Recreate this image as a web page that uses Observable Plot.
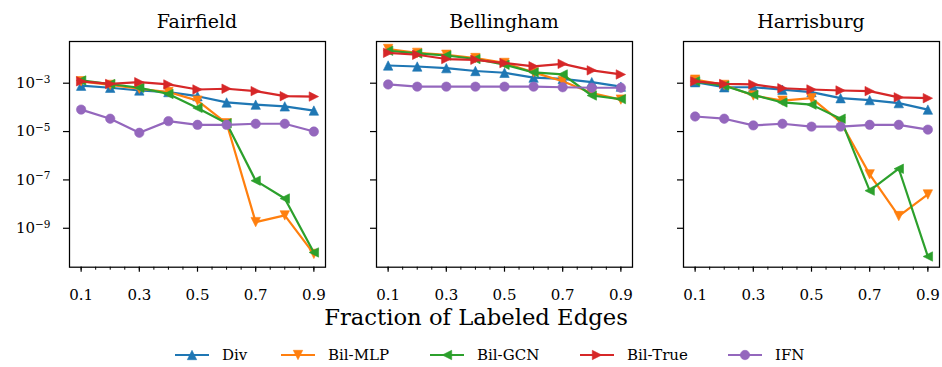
<!DOCTYPE html>
<html><head><meta charset="utf-8">
<script src="https://cdn.jsdelivr.net/npm/d3@7"></script>
<script src="https://cdn.jsdelivr.net/npm/@observablehq/plot@0.6"></script>
<style>
html,body{margin:0;padding:0;background:#fff;}
#fig{position:relative;width:942px;height:367px;font-family:"DejaVu Serif",serif;color:#000;overflow:hidden;background:#fff}
#fig svg{position:absolute;top:0}
.title{position:absolute;top:12px;font-size:19px;line-height:19px;text-align:center;width:256px;white-space:nowrap}
.xlabel{position:absolute;top:306px;left:0;width:952px;text-align:center;font-size:22.7px;line-height:22.7px;white-space:nowrap}
.leg{position:absolute;top:348px;font-size:15px;line-height:15px;white-space:nowrap}
.legsvg{position:absolute}
</style></head><body><div id="fig"></div>
<script>
// ---- data ----
const fractions = [0.1, 0.2, 0.3, 0.4, 0.5, 0.6, 0.7, 0.8, 0.9];
const cities = ["Fairfield", "Bellingham", "Harrisburg"];
const methods = ["Div", "Bil-MLP", "Bil-GCN", "Bil-True", "IFN"];
const xTickLabels = ["0.1", "0.3", "0.5", "0.7", "0.9"];
const yTickExponents = [-3, -5, -7, -9];
const xAxisLabel = "Fraction of Labeled Edges";

const fairfieldDiv     = [7.9e-4, 6.5e-4, 5.0e-4, 4.3e-4, 2.9e-4, 1.6e-4, 1.3e-4, 1.1e-4, 7.4e-5];
const fairfieldBilMLP  = [1.2e-3, 8.5e-4, 5.9e-4, 4.3e-4, 1.9e-4, 2.2e-5, 1.8e-9, 3.4e-9, 8.7e-11];
const fairfieldBilGCN  = [1.3e-3, 9.3e-4, 6.5e-4, 3.6e-4, 9.5e-5, 2.2e-5, 9.3e-8, 1.7e-8, 1.0e-10];
const fairfieldBilTrue = [1.2e-3, 9.3e-4, 1.1e-3, 8.9e-4, 5.5e-4, 5.9e-4, 4.7e-4, 2.9e-4, 2.8e-4];
const fairfieldIFN     = [8.1e-5, 3.4e-5, 8.9e-6, 2.7e-5, 1.9e-5, 1.9e-5, 2.1e-5, 2.1e-5, 1.0e-5];

const bellinghamDiv     = [5.4e-3, 4.9e-3, 4.2e-3, 3.2e-3, 2.7e-3, 1.7e-3, 1.5e-3, 1.1e-3, 7.2e-4];
const bellinghamBilMLP  = [2.6e-2, 1.8e-2, 1.5e-2, 1.1e-2, 6.9e-3, 2.8e-3, 1.2e-3, 3.9e-4, 2.1e-4];
const bellinghamBilGCN  = [2.2e-2, 1.7e-2, 1.4e-2, 1.0e-2, 5.8e-3, 2.8e-3, 2.3e-3, 3.1e-4, 2.2e-4];
const bellinghamBilTrue = [1.8e-2, 1.5e-2, 1.0e-2, 9.3e-3, 6.8e-3, 5.0e-3, 6.3e-3, 3.4e-3, 2.3e-3];
const bellinghamIFN     = [8.9e-4, 7.2e-4, 7.2e-4, 7.2e-4, 7.2e-4, 7.2e-4, 6.8e-4, 6.5e-4, 6.5e-4];

const harrisburgDiv     = [1.1e-3, 6.8e-4, 6.8e-4, 5.4e-4, 4.3e-4, 2.4e-4, 2.0e-4, 1.5e-4, 8.1e-5];
const harrisburgBilMLP  = [1.4e-3, 8.5e-4, 3.1e-4, 1.9e-4, 2.4e-4, 2.5e-5, 1.7e-7, 3.2e-9, 2.5e-8];
const harrisburgBilGCN  = [1.2e-3, 7.9e-4, 3.3e-4, 1.6e-4, 1.3e-4, 3.4e-5, 3.6e-8, 2.9e-7, 6.8e-11];
const harrisburgBilTrue = [1.2e-3, 9.3e-4, 8.9e-4, 6.2e-4, 5.5e-4, 5.0e-4, 4.7e-4, 2.6e-4, 2.4e-4];
const harrisburgIFN     = [4.2e-5, 3.4e-5, 1.8e-5, 2.1e-5, 1.6e-5, 1.6e-5, 1.9e-5, 1.9e-5, 1.2e-5];

const cityData = [
  [fairfieldDiv, fairfieldBilMLP, fairfieldBilGCN, fairfieldBilTrue, fairfieldIFN],
  [bellinghamDiv, bellinghamBilMLP, bellinghamBilGCN, bellinghamBilTrue, bellinghamIFN],
  [harrisburgDiv, harrisburgBilMLP, harrisburgBilGCN, harrisburgBilTrue, harrisburgIFN]
];

// ---- styling ----
const colors = ["#1f77b4", "#ff7f0e", "#2ca02c", "#d62728", "#9467bd"];
function tri(dir) {
  return {
    draw(ctx, size) {
      const a = Math.sqrt(size / Math.PI);
      if (dir === "up") { ctx.moveTo(0, -a); ctx.lineTo(a, a); ctx.lineTo(-a, a); }
      else if (dir === "down") { ctx.moveTo(0, a); ctx.lineTo(a, -a); ctx.lineTo(-a, -a); }
      else if (dir === "left") { ctx.moveTo(-a, 0); ctx.lineTo(a, -a); ctx.lineTo(a, a); }
      else { ctx.moveTo(a, 0); ctx.lineTo(-a, -a); ctx.lineTo(-a, a); }
      ctx.closePath();
    }
  };
}
const symbols = [tri("up"), tri("down"), tri("left"), tri("right"), "circle"];

const fig = document.getElementById("fig");
const panelLeft0 = 69, panelStep = 307, panelW = 256;
const frameTop = 41, frameBottom = 266.7, svgH = 310;
const yDomain = [Math.pow(10, -10.61), Math.pow(10, -1.275)];
const minorTicks = d3.range(0.1, 0.9001, 0.05).map(v => +v.toFixed(2));
const majorTicks = xTickLabels.map(Number);

cities.forEach((city, ci) => {
  const ml = ci === 0 ? 69 : 20;
  const mr = 4;
  const left = panelLeft0 + panelStep * ci - ml;
  const marks = [];
  methods.forEach((m, si) => {
    const rows = fractions.map((f, k) => ({x: f, y: cityData[ci][si][k]}));
    marks.push(Plot.line(rows, {x: "x", y: "y", stroke: colors[si], strokeWidth: 2.2}));
    marks.push(Plot.dot(rows, {x: "x", y: "y", fill: colors[si], stroke: colors[si], strokeWidth: 0.6, r: 4.7, symbol: () => symbols[si]}));
  });
  const svg = Plot.plot({
    width: ml + panelW + mr,
    height: svgH,
    marginLeft: ml, marginRight: mr, marginTop: frameTop, marginBottom: svgH - frameBottom,
    style: {fontFamily: "DejaVu Serif, serif", fontSize: "15px", color: "#000", background: "transparent", overflow: "visible"},
    x: {domain: [0.06, 0.94]},
    y: {type: "log", domain: yDomain},
    symbol: {type: "identity"},
    marks: [
      Plot.axisX({ticks: minorTicks, tickSize: 3, tickFormat: () => "", label: null, strokeWidth: 1}),
      Plot.axisX({ticks: majorTicks, tickSize: 5, tickPadding: 17, tickFormat: d => d.toFixed(1), label: null, strokeWidth: 1.2, fontSize: 15}),
      Plot.axisY({ticks: yTickExponents.map(e => Math.pow(10, e)), tickSize: 6, tickPadding: 13,
        tickFormat: d => ci === 0 ? "10^" + Math.round(Math.log10(d)) : "", label: null, strokeWidth: 1.2, fontSize: 15}),
      ...marks,
      Plot.frame({stroke: "#000", strokeWidth: 1.25})
    ]
  });
  svg.style.left = left + "px";
  // superscript exponents
  d3.select(svg).selectAll("text").each(function () {
    const t = this.textContent;
    const mm = /^10\^(-?\d+)$/.exec(t);
    if (mm) {
      const el = d3.select(this);
      el.text("");
      el.append("tspan").text("10");
      el.append("tspan").attr("dy", "-0.5em").attr("font-size", "0.7em").text(mm[1].replace("-", "\u2212"));
    }
  });
  fig.appendChild(svg);
  const title = document.createElement("div");
  title.className = "title";
  title.style.left = (panelLeft0 + panelStep * ci) + "px";
  title.textContent = city;
  fig.appendChild(title);
});

const xl = document.createElement("div");
xl.className = "xlabel";
xl.textContent = xAxisLabel;
fig.appendChild(xl);

// legend
const handleStarts = [175, 281, 430, 580, 728];
methods.forEach((m, si) => {
  const hs = handleStarts[si];
  const s = d3.create("svg").attr("class", "legsvg").attr("width", 36).attr("height", 16)
    .style("left", (hs - 1) + "px").style("top", "347px");
  s.append("line").attr("x1", 1).attr("x2", 35).attr("y1", 8).attr("y2", 8)
    .attr("stroke", colors[si]).attr("stroke-width", 2.2);
  const sym = symbols[si];
  const path = d3.path();
  const size = Math.PI * 4.7 * 4.7;
  if (typeof sym === "string") { path.arc(0, 0, 4.7, 0, 2 * Math.PI); }
  else sym.draw(path, size);
  s.append("path").attr("d", path.toString()).attr("transform", "translate(18,8)")
    .attr("fill", colors[si]).attr("stroke", colors[si]).attr("stroke-width", 0.6);
  fig.appendChild(s.node());
  const t = document.createElement("div");
  t.className = "leg";
  t.style.left = (hs + 47) + "px";
  t.textContent = m;
  fig.appendChild(t);
});
</script>
</body></html>
